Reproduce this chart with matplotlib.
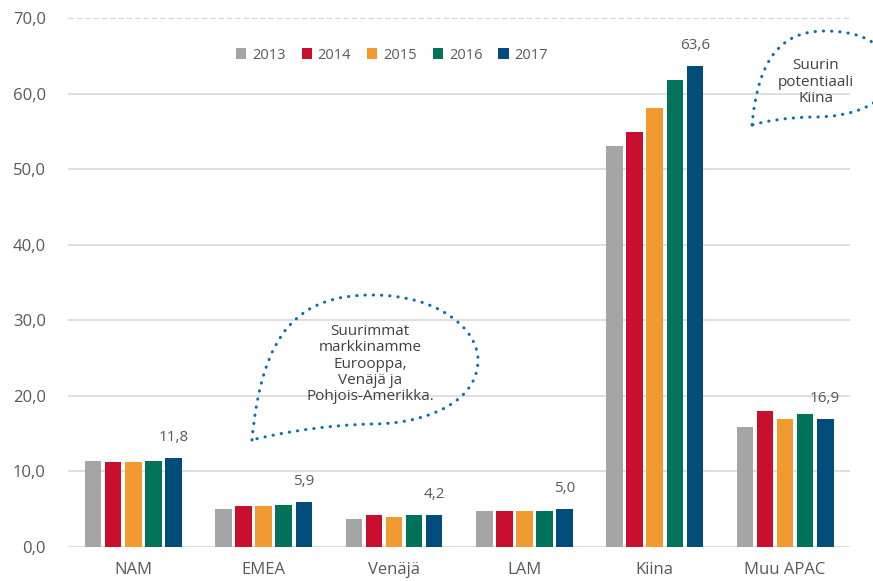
import matplotlib.pyplot as plt
import numpy as np
from matplotlib.path import Path
from matplotlib.patches import PathPatch

plt.rcParams['font.family'] = ['Open Sans', 'DejaVu Sans']

# Tiedot
alueet = ['NAM', 'EMEA', 'Venäjä', 'LAM', 'Kiina', 'Muu APAC']
vuodet = ['2013', '2014', '2015', '2016', '2017']
arvot_2013 = [11.4, 5.0, 3.7, 4.8, 53.1, 15.9]
arvot_2014 = [11.2, 5.4, 4.2, 4.8, 54.9, 18.0]
arvot_2015 = [11.2, 5.4, 4.0, 4.8, 58.1, 16.9]
arvot_2016 = [11.4, 5.6, 4.2, 4.8, 61.8, 17.6]
arvot_2017 = [11.8, 5.9, 4.2, 5.0, 63.6, 16.9]
sarjat = [arvot_2013, arvot_2014, arvot_2015, arvot_2016, arvot_2017]
varit = ['#A5A5A5', '#C8102E', '#F09A30', '#00735A', '#004C7A']

fig = plt.figure(figsize=(8.73, 5.81), dpi=100)
ax = fig.add_axes([0.078, 0.0585, 0.896, 0.9105])

x = np.arange(len(alueet))
leveys = 0.127
vali = 0.154
for i, (arvot, vari) in enumerate(zip(sarjat, varit)):
    ax.bar(x + (i - 2) * vali, arvot, width=leveys, color=vari, label=vuodet[i], zorder=3)

# arvot viimeisen vuoden päälle
for xi, v in zip(x, arvot_2017):
    ax.annotate(f'{v:.1f}'.replace('.', ','), (xi + 2 * vali, v), xytext=(0, 15),
                textcoords='offset points', ha='center', va='center',
                fontsize=11, color='#595959')

ax.set_xlim(-0.5, 5.5)
ax.set_ylim(0, 70)
ax.set_yticks(range(0, 71, 10))
ax.set_yticklabels([f'{t:.1f}'.replace('.', ',') for t in range(0, 71, 10)])
ax.set_xticks(x)
ax.set_xticklabels(alueet)
ax.tick_params(length=0, colors='#595959', labelsize=12)
ax.tick_params(axis='y', pad=16)
ax.tick_params(axis='x', pad=11)
for s in ax.spines.values():
    s.set_visible(False)
for t in range(0, 70, 10):
    ax.axhline(t, color='#D9D9D9', lw=1.2, zorder=1)
ax.axhline(70, color='#D9D9D9', lw=1.0, ls=(0, (4, 2)), zorder=1, clip_on=False)

ax.legend(loc='center', bbox_to_anchor=(0.414, 0.93), ncol=5, frameon=False,
          fontsize=10.5, handlelength=0.7, handleheight=0.7, handletextpad=0.4,
          columnspacing=1.1, labelcolor='#595959')

# puhekuplat
ov = fig.add_axes([0, 0, 1, 1])
ov.set_xlim(0, 873)
ov.set_ylim(581, 0)
ov.axis('off')
ov.patch.set_alpha(0)

def kupla(pisteet):
    koodit = [Path.MOVETO] + [Path.CURVE4] * (len(pisteet) - 1)
    p = PathPatch(Path(pisteet, koodit), fill=False, edgecolor='#0E6FAA', lw=2.2,
                  linestyle=(0, (0.1, 2.6)))
    p.set_capstyle('round')
    ov.add_patch(p)

kupla([(252, 440), (262, 330), (300, 295), (372, 295),
       (440, 295), (478, 330), (478, 360),
       (478, 405), (420, 424), (373, 424),
       (320, 425), (270, 435), (252, 440)])
kupla([(752, 125), (758, 60), (780, 31), (825, 31),
       (870, 31), (890, 50), (890, 75),
       (890, 105), (850, 117), (815, 117),
       (790, 117), (765, 121), (752, 125)])

ov.text(370, 364, 'Suurimmat\nmarkkinamme\nEurooppa,\nVenäjä ja\nPohjois-Amerikka.',
        ha='center', va='center', fontsize=11, color='#404040', linespacing=1.12)
ov.text(816, 82, 'Suurin\npotentiaali\nKiina', ha='center', va='center',
        fontsize=11, color='#404040', linespacing=1.12)

fig.savefig('out.png', dpi=100)
